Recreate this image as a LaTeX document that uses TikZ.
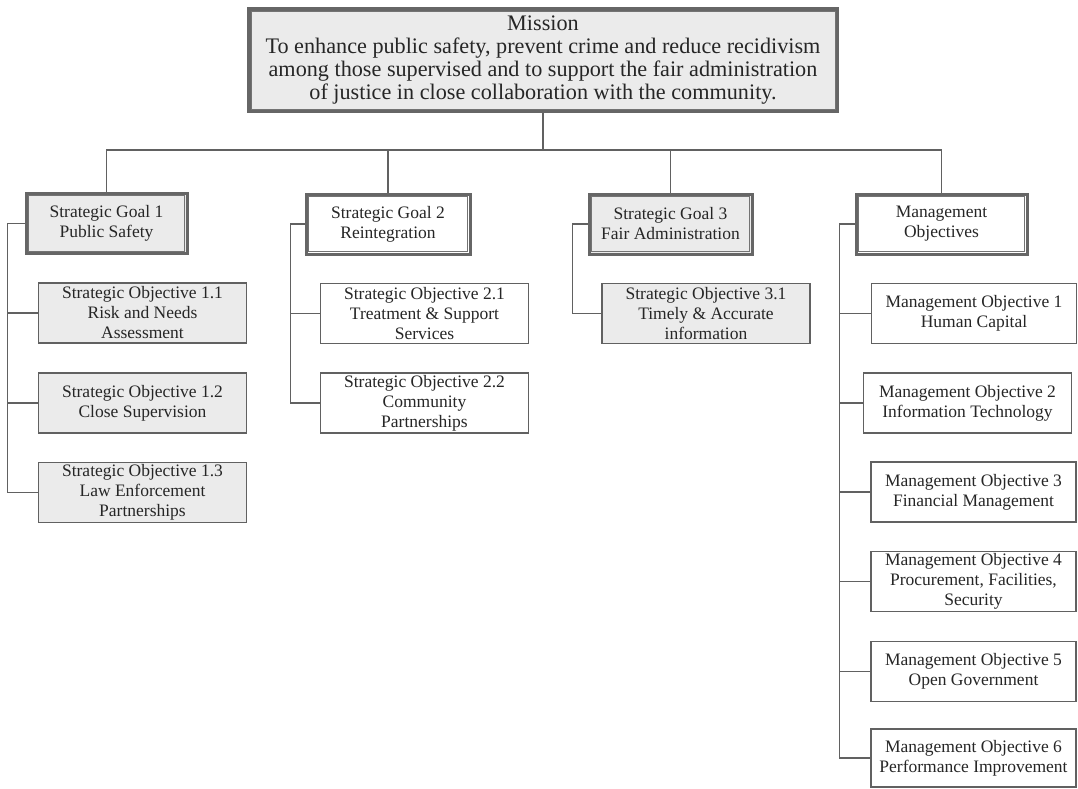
\documentclass[tikz,border=0pt]{standalone}
\usepackage{fontspec}
\setmainfont{Liberation Serif}
\colorlet{grayfill}{black!8}
\colorlet{linecol}{black!62}
\begin{document}
\begin{tikzpicture}[x=1pt,y=1pt,
  txt/.style={font=\fontsize{17.5}{20}\selectfont, text=black!85, align=center, inner sep=0pt},
  objbox/.style={txt, draw=linecol, line width=1.2pt, fill=white, minimum width=208pt, minimum height=60pt},
  grayobj/.style={objbox, fill=grayfill},
  goalbox/.style={txt, draw=black!60, line width=3pt, fill=white, minimum height=60pt},
  graygoal/.style={goalbox, fill=grayfill},
  innerframe/.style={draw=black!55, line width=0.8pt},
  conn/.style={draw=linecol, line width=1.3pt}
]
\useasboundingbox (0,0) rectangle (1078,-789);

% mission
\node[goalbox, fill=grayfill, line width=3.5pt, minimum width=588pt, minimum height=102pt,
      font=\fontsize{22.2}{23}\selectfont] (m) at (543,-60)
  {Mission\\To enhance public safety, prevent crime and reduce recidivism\\among those supervised and to support the fair administration\\of justice in close collaboration with the community.};

% goals
\node[graygoal, minimum width=161pt] (g1) at (106.5,-223.5) {Strategic Goal 1\\Public Safety};
\node[goalbox,  minimum width=164pt] (g2) at (388,-224) {Strategic Goal 2\\Reintegration};
\node[graygoal, minimum width=163pt] (g3) at (670.5,-224) {Strategic Goal 3\\Fair Administration};
\node[goalbox,  minimum width=171pt] (gm) at (941.5,-224) {Management\\Objectives};

\foreach \n in {m,g1,g2,g3,gm}
  \draw[innerframe] ([xshift=3.8pt,yshift=-3.8pt]\n.north west) rectangle ([xshift=-3.8pt,yshift=3.8pt]\n.south east);

% objectives
\node[grayobj] (o11) at (142.5,-313) {Strategic Objective 1.1\\Risk and Needs\\Assessment};
\node[grayobj] (o12) at (142.5,-403) {Strategic Objective 1.2\\Close Supervision};
\node[grayobj] (o13) at (142.5,-492.5) {Strategic Objective 1.3\\Law Enforcement\\Partnerships};
\node[objbox] (o21) at (424.5,-313.5) {Strategic Objective 2.1\\Treatment \& Support\\Services};
\node[objbox] (o22) at (424.5,-403) {Strategic Objective 2.2\\Community\\Partnerships};
\node[grayobj] (o31) at (706,-313.5) {Strategic Objective 3.1\\Timely \& Accurate\\information};

\node[objbox, minimum width=205pt] (mo1) at (974,-313.5) {Management Objective 1\\Human Capital};
\node[objbox] (mo2) at (967.5,-403) {Management Objective 2\\Information Technology};
\node[objbox, minimum width=205pt] (mo3) at (973.5,-492) {Management Objective 3\\Financial Management};
\node[objbox, minimum width=205pt] (mo4) at (973.5,-581.5) {Management Objective 4\\Procurement, Facilities,\\Security};
\node[objbox, minimum width=205pt] (mo5) at (973.5,-671.5) {Management Objective 5\\Open Government};
\node[objbox, minimum width=205pt, minimum height=58pt] (mo6) at (973.5,-758) {Management Objective 6\\Performance Improvement};

% top bus
\coordinate (bus) at (543,-150);
\draw[conn] (m.south) -- (bus);
\foreach \g in {g1,g2,g3,gm}
  \draw[conn] (\g.north) |- (bus);

% spines
\foreach \c in {o11,o12,o13}
  \draw[conn] (g1.west) -- ++(-17,0) |- (\c.west);
\foreach \c in {o21,o22}
  \draw[conn] (g2.west) -- ++(-14,0) |- (\c.west);
\draw[conn] (g3.west) -- ++(-15,0) |- (o31.west);
\foreach \c in {mo1,mo2,mo3,mo4,mo5,mo6}
  \draw[conn] (gm.west) -- ++(-15,0) |- (\c.west);
\end{tikzpicture}
\end{document}
